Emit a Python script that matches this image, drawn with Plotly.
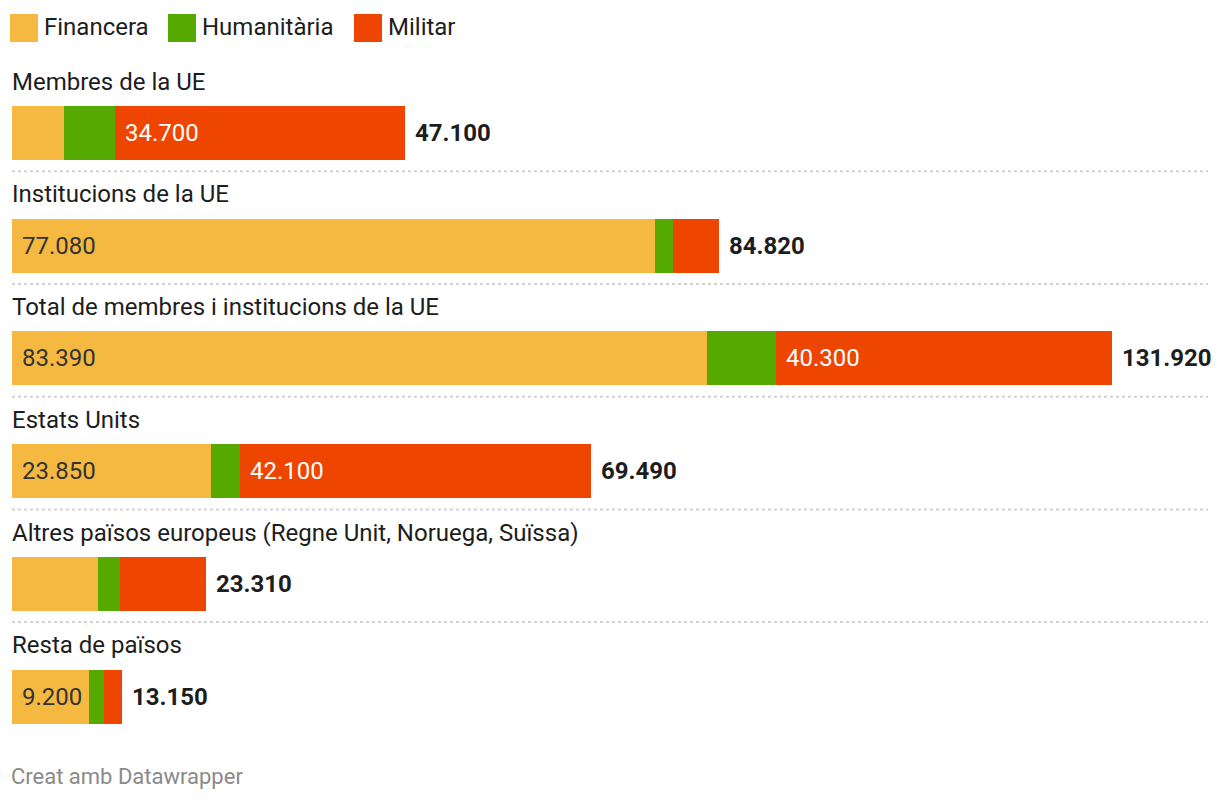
import plotly.graph_objects as go

categories = [
    "Membres de la UE",
    "Institucions de la UE",
    "Total de membres i institucions de la UE",
    "Estats Units",
    "Altres països europeus (Regne Unit, Noruega, Suïssa)",
    "Resta de països",
]
financera = [6200, 77080, 83390, 23850, 10320, 9200]
humanitaria = [6200, 2210, 8230, 3540, 2640, 1850]
militar = [34700, 5530, 40300, 42100, 10350, 2100]
totals = [47100, 84820, 131920, 69490, 23310, 13150]
financera_labels = ["", "77.080", "83.390", "23.850", "", "9.200"]
militar_labels = ["34.700", "", "40.300", "42.100", "", ""]
series_names = ["Financera", "Humanitària", "Militar"]

COLORS = ["#F5B942", "#56A900", "#EE4500"]
FONT = "Roboto"
W, H = 1220, 800
ROW = 112.7          # px between rows
FIRST = 133          # px centre of first bar
BAR_PX = 54
LEFT_PX = 12
SCALE_PX = 1100      # px for the max total
FS = 24

def fmt(v):
    return f"{v:,}".replace(",", ".")

ys = list(range(len(categories)))
bw = BAR_PX / ROW

fig = go.Figure()
for name, vals, col in zip(series_names, [financera, humanitaria, militar], COLORS):
    fig.add_trace(go.Bar(
        y=ys, x=vals, orientation="h", name=name, width=bw,
        marker=dict(color=col, line=dict(width=0)), showlegend=False,
        hoverinfo="skip",
    ))

annotations = []
shapes = []
vmax = max(totals)
xmin = -LEFT_PX * vmax / SCALE_PX
xmax = (W - LEFT_PX) * vmax / SCALE_PX
ymin = -FIRST / ROW
ymax = (H - FIRST) / ROW

for i, cat in enumerate(categories):
    # category title
    annotations.append(dict(
        x=(LEFT_PX - 2) / W, xref="paper", y=i - 0.455, yref="y", text=cat,
        xanchor="left", yanchor="middle", showarrow=False,
        font=dict(family=FONT, size=FS, color="#1d1d1d"),
    ))
    # total label
    annotations.append(dict(
        x=totals[i], y=i, xref="x", yref="y", text=f"<b>{fmt(totals[i])}</b>",
        xanchor="left", yanchor="middle", xshift=8, showarrow=False,
        font=dict(family=FONT, size=FS, color="#1d1d1d"),
    ))
    if financera_labels[i]:
        annotations.append(dict(
            x=0, y=i, xref="x", yref="y", text=financera_labels[i],
            xanchor="left", yanchor="middle", xshift=8, showarrow=False,
            font=dict(family=FONT, size=FS, color="#333333"),
        ))
    if militar_labels[i]:
        annotations.append(dict(
            x=financera[i] + humanitaria[i], y=i, xref="x", yref="y",
            text=militar_labels[i],
            xanchor="left", yanchor="middle", xshift=8, showarrow=False,
            font=dict(family=FONT, size=FS, color="#ffffff"),
        ))
    if i < len(categories) - 1:
        shapes.append(dict(
            type="line", xref="paper", yref="y", x0=LEFT_PX / W, x1=1208 / W,
            y0=i + 0.34, y1=i + 0.34,
            line=dict(color="#d2d2d2", width=2, dash="dot"),
        ))

# manual legend
leg_x = [10, 168, 354]
for name, col, lx in zip(series_names, COLORS, leg_x):
    shapes.append(dict(
        type="rect", xref="paper", yref="paper",
        x0=lx / W, x1=(lx + 28) / W, y0=1 - 42 / H, y1=1 - 14 / H,
        fillcolor=col, line=dict(width=0),
    ))
    annotations.append(dict(
        x=(lx + 32) / W, y=1 - 27 / H, xref="paper", yref="paper", text=name,
        xanchor="left", yanchor="middle", showarrow=False,
        font=dict(family=FONT, size=FS, color="#1d1d1d"),
    ))

annotations.append(dict(
    x=(LEFT_PX - 3) / W, y=1 - 776 / H, xref="paper", yref="paper",
    text="Creat amb Datawrapper", xanchor="left", yanchor="middle",
    showarrow=False, font=dict(family=FONT, size=22, color="#8a8a8a"),
))

fig.update_layout(
    width=W, height=H, barmode="stack", bargap=0,
    margin=dict(l=0, r=0, t=0, b=0),
    paper_bgcolor="white", plot_bgcolor="white",
    xaxis=dict(visible=False, range=[xmin, xmax], fixedrange=True),
    yaxis=dict(visible=False, range=[ymax, ymin], fixedrange=True),
    annotations=annotations, shapes=shapes,
    font=dict(family=FONT),
)

fig.write_html("out.html")
